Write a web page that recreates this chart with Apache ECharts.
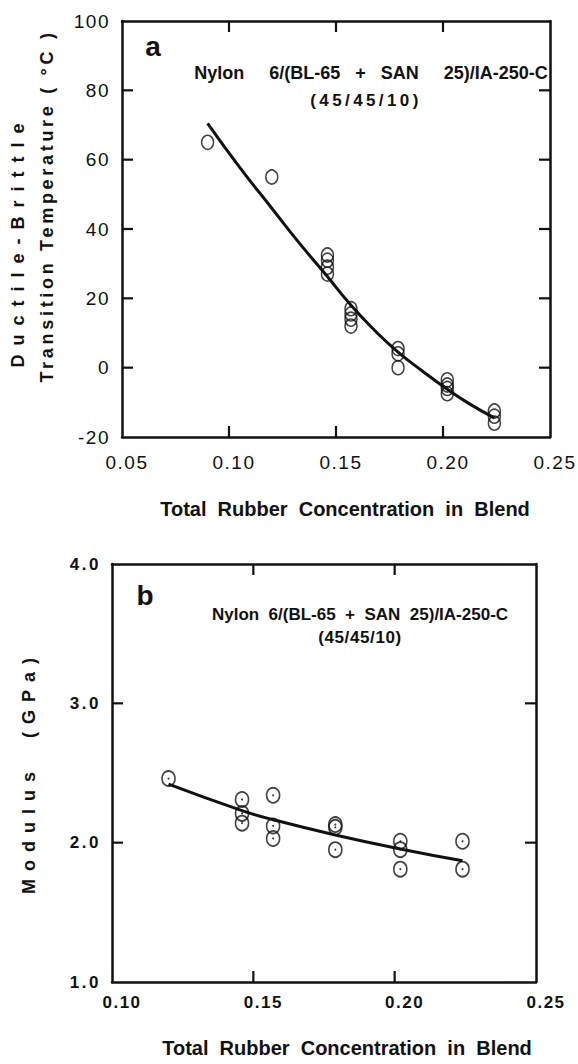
<!DOCTYPE html>
<html>
<head>
<meta charset="utf-8">
<script src="https://cdn.jsdelivr.net/npm/echarts@6/dist/echarts.min.js"></script>
<style>
html,body{margin:0;padding:0;background:#fff;}
#c{width:578px;height:1064px;}
#c svg text{white-space:pre;}
</style>
</head>
<body>
<div id="c"></div>
<script>
// ---- data ----
const tempX = [0.090, 0.120, 0.146, 0.146, 0.146, 0.146, 0.157, 0.157, 0.157, 0.157, 0.179, 0.179, 0.179, 0.202, 0.202, 0.202, 0.202, 0.224, 0.224, 0.224];
const tempY = [65, 55, 32.5, 31, 29, 27, 17, 15.5, 14, 12, 5.5, 4, 0, -3.5, -5, -6, -7.5, -12.5, -14, -16];
const tempFitX = [0.090, 0.105, 0.120, 0.1325, 0.145, 0.157, 0.168, 0.179, 0.190, 0.201, 0.212, 0.224];
const tempFitY = [70.5, 57.8, 46.0, 36.2, 27.0, 18.0, 10.8, 4.5, -0.8, -5.8, -10.3, -14.5];
const modX = [0.120, 0.146, 0.146, 0.146, 0.157, 0.157, 0.157, 0.179, 0.179, 0.179, 0.202, 0.202, 0.202, 0.224, 0.224];
const modY = [2.46, 2.31, 2.21, 2.14, 2.34, 2.12, 2.03, 2.13, 2.11, 1.95, 2.01, 1.95, 1.81, 2.01, 1.81];
const modFitX = [0.120, 0.146, 0.157, 0.179, 0.202, 0.224];
const modFitY = [2.42, 2.23, 2.165, 2.055, 1.955, 1.87];
const xTicksA = [0.05, 0.10, 0.15, 0.20, 0.25];
const yTicksA = [-20, 0, 20, 40, 60, 80, 100];
const xTicksB = [0.10, 0.15, 0.20, 0.25];
const yTicksB = [1.0, 2.0, 3.0, 4.0];

const labelA = 'a';
const labelB = 'b';
const blendTextA = 'Nylon     6/(BL-65   +   SAN     25)/IA-250-C';
const blendTextB = 'Nylon  6/(BL-65  +  SAN  25)/IA-250-C';
const ratioText = '(45/45/10)';
const xName = 'Total  Rubber  Concentration  in  Blend';
const yNameA1 = 'Ductile-Brittle';
const yNameA2 = 'Transition Temperature ( °C )';
const yNameB = 'Modulus  (GPa)';

// ---- chart ----
const INK = '#111';
const TL = 11;
const SANS = "'Liberation Sans', Arial, Helvetica, sans-serif";
const pairs = (xs, ys) => xs.map((x, i) => [x, ys[i]]);
const first = a => a[0];
const last = a => a[a.length - 1];
const inner = a => a.slice(1, -1);

const chart = echarts.init(document.getElementById('c'), null, {renderer: 'svg'});

function baseAxis(extra) {
  return Object.assign({
    type: 'value',
    axisLine: {show: true, onZero: false, lineStyle: {color: INK, width: 2.5}},
    axisTick: {show: false},
    splitLine: {show: false},
    axisLabel: {show: false}
  }, extra);
}

const labA = {show: true, color: INK, fontFamily: SANS, fontSize: 19, fontWeight: 'normal'};
const labB = {show: true, color: INK, fontFamily: SANS, fontSize: 17, fontWeight: 'bold'};

function text(x, y, str, size, weight, rot) {
  return {
    type: 'text', x: x, y: y, rotation: rot || 0, silent: true,
    style: {text: str, fill: INK, font: weight + ' ' + size + 'px ' + SANS,
            textAlign: 'center', textVerticalAlign: 'middle'}
  };
}

// inward tick marks on all four sides, placed through the axes' own scales
function tickLine(x1, y1, x2, y2) {
  return {type: 'line', shape: {x1: x1, y1: y1, x2: x2, y2: y2}, style: {stroke: INK, lineWidth: 2.2}};
}
function xTickSeries(xi, yi, xs, ys) {
  return {
    type: 'custom', xAxisIndex: xi, yAxisIndex: yi, silent: true, clip: false,
    data: inner(xs).map(v => [v, first(ys)]),
    renderItem: (params, api) => {
      const v = api.value(0);
      const b = api.coord([v, first(ys)]);
      const t = api.coord([v, last(ys)]);
      return {type: 'group', children: [
        tickLine(b[0], b[1], b[0], b[1] - TL),
        tickLine(t[0], t[1], t[0], t[1] + TL)
      ]};
    }
  };
}
function yTickSeries(xi, yi, xs, ys) {
  return {
    type: 'custom', xAxisIndex: xi, yAxisIndex: yi, silent: true, clip: false,
    data: inner(ys).map(v => [first(xs), v]),
    renderItem: (params, api) => {
      const v = api.value(1);
      const l = api.coord([first(xs), v]);
      const r = api.coord([last(xs), v]);
      return {type: 'group', children: [
        tickLine(l[0], l[1], l[0] + TL, l[1]),
        tickLine(r[0], r[1], r[0] - TL, r[1])
      ]};
    }
  };
}

const option = {
  animation: false,
  backgroundColor: '#fff',
  grid: [
    {left: 122, top: 21, width: 428, height: 416},
    {left: 112, top: 564, width: 424, height: 418}
  ],
  xAxis: [
    baseAxis({gridIndex: 0, position: 'bottom', min: first(xTicksA), max: last(xTicksA), interval: 0.05,
      axisLabel: Object.assign({}, labA, {margin: 16, padding: [0, 0, 0, 10], formatter: v => v.toFixed(2)})}),
    baseAxis({gridIndex: 0, position: 'top', min: first(xTicksA), max: last(xTicksA), interval: 0.05}),
    baseAxis({gridIndex: 1, position: 'bottom', min: first(xTicksB), max: last(xTicksB), interval: 0.05,
      axisLabel: Object.assign({}, labB, {margin: 12, padding: [0, 0, 0, 20], formatter: v => v.toFixed(2)})}),
    baseAxis({gridIndex: 1, position: 'top', min: first(xTicksB), max: last(xTicksB), interval: 0.05})
  ],
  yAxis: [
    baseAxis({gridIndex: 0, position: 'left', min: first(yTicksA), max: last(yTicksA), interval: 20,
      axisLabel: Object.assign({}, labA, {margin: 12, formatter: v => String(v)})}),
    baseAxis({gridIndex: 0, position: 'right', min: first(yTicksA), max: last(yTicksA), interval: 20}),
    baseAxis({gridIndex: 1, position: 'left', min: first(yTicksB), max: last(yTicksB), interval: 1,
      axisLabel: Object.assign({}, labB, {margin: 11, formatter: v => v.toFixed(1)})}),
    baseAxis({gridIndex: 1, position: 'right', min: first(yTicksB), max: last(yTicksB), interval: 1})
  ],
  series: [
    xTickSeries(0, 0, xTicksA, yTicksA),
    yTickSeries(0, 0, xTicksA, yTicksA),
    xTickSeries(2, 2, xTicksB, yTicksB),
    yTickSeries(2, 2, xTicksB, yTicksB),
    {type: 'line', xAxisIndex: 0, yAxisIndex: 0, data: pairs(tempFitX, tempFitY), smooth: 0.5,
     showSymbol: false, silent: true, lineStyle: {color: INK, width: 3}},
    {type: 'scatter', xAxisIndex: 0, yAxisIndex: 0, data: pairs(tempX, tempY), symbol: 'circle',
     symbolSize: [12, 14], silent: true,
     itemStyle: {color: 'rgba(255,255,255,0)', borderColor: INK, borderWidth: 1.5}},
    {type: 'line', xAxisIndex: 2, yAxisIndex: 2, data: pairs(modFitX, modFitY), smooth: 0.5,
     showSymbol: false, silent: true, lineStyle: {color: INK, width: 3}},
    {type: 'scatter', xAxisIndex: 2, yAxisIndex: 2, data: pairs(modX, modY), symbol: 'circle',
     symbolSize: [13, 15], silent: true,
     itemStyle: {color: 'rgba(255,255,255,0)', borderColor: INK, borderWidth: 1.7}},
    {type: 'scatter', xAxisIndex: 2, yAxisIndex: 2, data: pairs(modX, modY), symbol: 'circle',
     symbolSize: 2, silent: true, itemStyle: {color: INK}}
  ],
  graphic: [
    text(153, 46, labelA, 28, 'bold'),
    text(371, 73, blendTextA, 18, 'bold'),
    text(366, 100, ratioText, 17, 'bold'),
    text(18, 241, yNameA1, 18, 'bold', Math.PI / 2),
    text(47, 206, yNameA2, 18, 'bold', Math.PI / 2),
    text(345, 509, xName, 20, 'bold'),
    text(145, 595, labelB, 28, 'bold'),
    text(360, 614, blendTextB, 17, 'bold'),
    text(360, 637, ratioText, 17, 'bold'),
    text(29, 772, yNameB, 18, 'bold', Math.PI / 2),
    text(347, 1048, xName, 20, 'bold')
  ]
};

// letter spacing of the original typesetting (applied to the SVG text nodes)
function applySpacing() {
  let ratioCount = 0;
  document.querySelectorAll('#c svg text').forEach(t => {
    const s = t.textContent;
    let ls = null;
    if (s === yNameA1) ls = 9;
    else if (s === yNameA2) ls = 3.7;
    else if (s === yNameB) ls = 8;
    else if (s === ratioText) { ls = ratioCount === 0 ? 3.4 : 0.6; ratioCount++; }
    else if (/^-?\d+$/.test(s)) ls = 1.5;
    else if (/^\d\.\d$/.test(s)) ls = 2.5;
    else if (/^0\.\d\d$/.test(s)) ls = 1.5;
    if (ls !== null) t.style.letterSpacing = ls + 'px';
  });
}
chart.on('finished', applySpacing);
chart.setOption(option);
applySpacing();
</script>
</body>
</html>
